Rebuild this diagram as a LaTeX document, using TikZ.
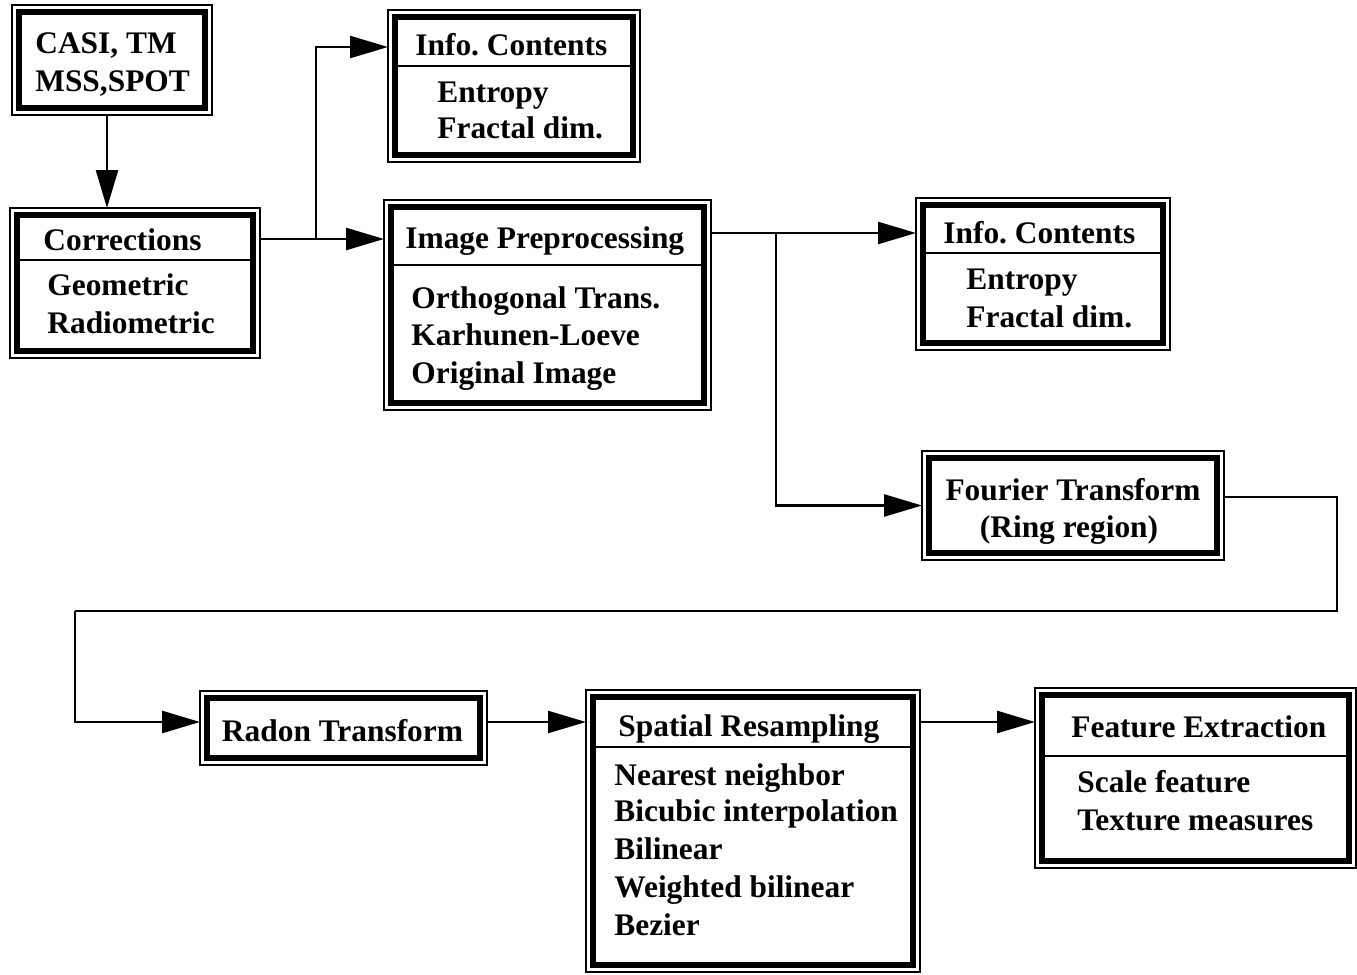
\documentclass[tikz,border=0pt]{standalone}
\usepackage{fontspec}
\setmainfont{Liberation Serif}
\usetikzlibrary{arrows.meta}
\tikzset{
  box/.style={draw, line width=3pt, outer sep=3.5pt, inner sep=0pt},
  outerline/.style={line width=0.8pt},
  sepline/.style={line width=1.4pt},
  txt/.style={anchor=west, inner sep=0pt, text height=0.68em, text depth=0pt, yshift=-2pt,
    font=\fontsize{15.7}{18.8}\selectfont\bfseries\frenchspacing},
  txtc/.style={txt, anchor=center},
  conn/.style={line width=1.3pt},
  arr/.style={conn, -{Triangle[length=19pt,width=11pt]}},
}
\begin{document}
\begin{tikzpicture}[x=0.5pt, y=-0.5pt]
\useasboundingbox (0,0) rectangle (1357,975);
% boxes
\node[box, minimum width=93pt, minimum height=48pt] (casi) at (112,60) {};
\node[box, minimum width=118pt, minimum height=68pt] (corr) at (135,283) {};
\node[box, minimum width=119pt, minimum height=69pt] (infoA) at (514,86) {};
\node[box, minimum width=156.5pt, minimum height=98pt] (img) at (547.5,305) {};
\node[box, minimum width=120pt, minimum height=69pt] (infoB) at (1043,274) {};
\node[box, minimum width=144pt, minimum height=47.5pt] (four) at (1073,505.5) {};
\node[box, minimum width=136.5pt, minimum height=30pt] (radon) at (343.5,728) {};
\node[box, minimum width=160pt, minimum height=134pt] (spat) at (753,831) {};
\node[box, minimum width=153.5pt, minimum height=83pt] (feat) at (1195.5,778) {};
\foreach \b in {casi,corr,infoA,img,infoB,four,radon,spat,feat}
  \draw[outerline] (\b.north west) rectangle (\b.south east);
% separators
\draw[sepline] ([xshift=3.5pt]corr.west |- 0,260) -- ([xshift=-3.5pt]corr.east |- 0,260);
\draw[sepline] ([xshift=3.5pt]infoA.west |- 0,66) -- ([xshift=-3.5pt]infoA.east |- 0,66);
\draw[sepline] ([xshift=3.5pt]img.west |- 0,265) -- ([xshift=-3.5pt]img.east |- 0,265);
\draw[sepline] ([xshift=3.5pt]infoB.west |- 0,253) -- ([xshift=-3.5pt]infoB.east |- 0,253);
\draw[sepline] ([xshift=3.5pt]spat.west |- 0,747) -- ([xshift=-3.5pt]spat.east |- 0,747);
\draw[sepline] ([xshift=3.5pt]feat.west |- 0,756) -- ([xshift=-3.5pt]feat.east |- 0,756);
% texts
\node[txt] (casi1) at (35,43) {CASI, TM};
\node[txt] (casi2) at (35,81) {MSS,SPOT};
\node[txt] (corrh) at (43,240) {Corrections};
\node[txt] (corr1) at (47,285) {Geometric};
\node[txt] (corr2) at (47,323) {Radiometric};
\node[txt] (infoAh) at (415,45) {Info. Contents};
\node[txt] (infoA1) at (437,92) {Entropy};
\node[txt] (infoA2) at (437,128) {Fractal dim.};
\node[txt] (imgh) at (405,238) {Image Preprocessing};
\node[txt] (img1) at (411,298) {Orthogonal Trans.};
\node[txt] (img2) at (411,335) {Karhunen-Loeve};
\node[txt] (img3) at (411,373) {Original Image};
\node[txt] (infoBh) at (943,233) {Info. Contents};
\node[txt] (infoB1) at (966,279) {Entropy};
\node[txt] (infoB2) at (966,317) {Fractal dim.};
\node[txtc] (four1) at (1073,490) {Fourier Transform};
\node[txtc] (four2) at (1069,527) {(Ring region)};
\node[txtc] (radon1) at (342.5,731) {Radon Transform};
\node[txt] (spath) at (618,726) {Spatial Resampling};
\node[txt] (spat1) at (614,775) {Nearest neighbor};
\node[txt] (spat2) at (614,811) {Bicubic interpolation};
\node[txt] (spat3) at (614,849) {Bilinear};
\node[txt] (spat4) at (614,887) {Weighted bilinear};
\node[txt] (spat5) at (614,925) {Bezier};
\node[txt] (feath) at (1071,727) {Feature Extraction};
\node[txt] (feat1) at (1077,782) {Scale feature};
\node[txt] (feat2) at (1077,820) {Texture measures};
% connectors
\coordinate (b1) at (316,239);
\coordinate (b2) at (776,233);
\coordinate (r1) at (1337,497);
\coordinate (r2) at (1337,611);
\coordinate (r3) at (75,611);
\draw[arr] ([xshift=-2.5pt]casi.south) -- ([xshift=-2.5pt]casi.south |- corr.north);
\draw[arr] (corr.east |- b1) -- (img.west |- b1);
\draw[arr] (b1) |- (infoA.west |- 0,47);
\draw[arr] (img.east |- b2) -- (infoB.west |- b2);
\draw[arr] (b2) |- (four.west);
\draw[conn] (four.east |- r1) -- (r1) -- (r2) -- (r3);
\draw[arr] (r3) |- ([yshift=3pt]radon.west);
\draw[arr] ([yshift=3pt]radon.east) -- ([yshift=3pt]radon.east -| spat.west);
\draw[arr] ([yshift=3pt]radon.east -| spat.east) -- ([yshift=3pt]radon.east -| feat.west);
\end{tikzpicture}
\end{document}
